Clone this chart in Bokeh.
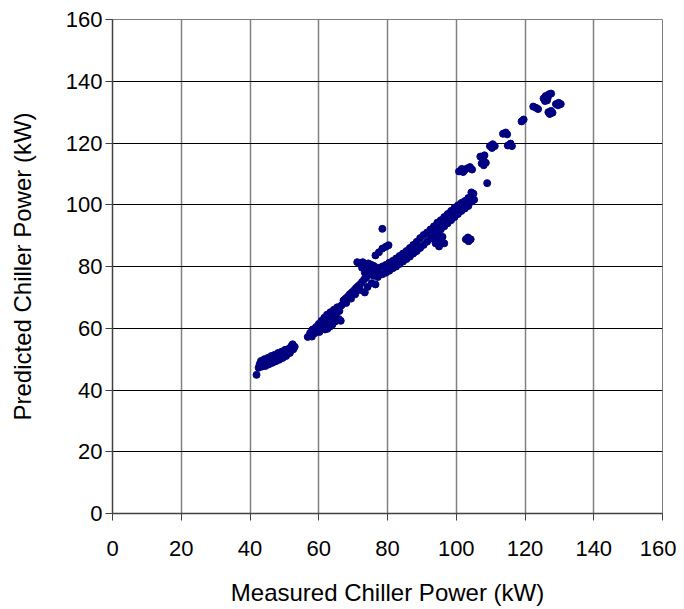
from bokeh.plotting import figure
from bokeh.models import Range1d, FixedTicker, ColumnDataSource
from bokeh.embed import file_html
from bokeh.resources import INLINE

# Measured vs predicted chiller power (kW)
measured_kw = [
    # 42-53 kW group
    41.9, 42.5, 42.8, 43.5, 43.8, 44.5, 44.8, 45.5, 45.8, 46.5, 46.8, 47.5, 47.8,
    48.5, 48.8, 49.5, 49.8, 50.5, 50.8, 51.3, 51.6, 52.0, 52.4, 52.6, 53.0,
    44.2, 46.2, 48.2, 50.2, 43.2, 45.2, 47.2, 49.2,
    # 57-67 kW group
    56.8, 57.5, 58.0, 58.2, 58.8, 59.2, 59.6, 60.0, 60.5, 60.8, 61.4, 61.6, 62.2,
    62.4, 62.5, 63.0, 63.2, 63.4, 64.0, 64.0, 64.4, 64.8, 65.0, 65.4, 65.8, 66.0,
    66.4, 66.6, 61.8, 60.2,
    # 67-76 kW band
    67.2, 67.8, 68.4, 69.0, 69.6, 70.2, 70.8, 71.4, 72.0, 72.6, 73.2, 73.8, 74.4,
    75.0, 68.0, 69.4, 70.6, 72.0, 73.4, 74.2, 75.4, 76.5,
    # 70-78 kW cluster near 80 kW predicted
    71.2, 72.0, 72.8, 73.6, 74.4, 75.2, 76.0, 72.6, 73.8, 75.0, 76.2, 77.0, 77.4,
    76.0, 77.2, 73.4,
    76.5, 77.5, 78.5, 79.5, 80.3, 78.5,
    # main band 78-105 kW
    78.5, 78.5, 79.5, 79.5, 80.5, 80.5, 81.5, 81.5, 82.5, 82.5, 83.5, 83.5, 84.5,
    84.5, 85.5, 85.5, 86.5, 86.5, 87.5, 87.5, 88.5, 88.5, 89.5, 89.5, 90.5, 90.5,
    91.5, 91.5, 92.5, 92.5, 93.5, 93.5, 94.5, 94.5, 95.5, 95.5, 96.5, 96.5, 97.5,
    97.5, 98.5, 98.5, 99.5, 99.5, 100.5, 100.5, 101.5, 101.5, 102.5, 102.5, 103.5,
    103.5, 104.5, 104.5,
    94.0, 95.0, 96.0, 97.0, 98.0, 99.0, 100.0, 101.0, 102.0, 103.0,
    # below-band lumps
    94.0, 95.0, 95.5, 96.5, 94.5, 96.0,
    102.8, 103.6, 104.2, 103.4,
    # upper scatter
    100.8, 101.6, 102.4, 103.2, 104.0, 104.6, 102.0,
    104.6, 105.2, 105.0, 104.4,
    109.0,
    107.0, 107.8, 108.2, 107.4, 108.0, 108.6,
    109.8, 110.6, 111.2, 110.4,
    115.0, 115.8, 116.2,
    113.6, 114.4, 114.8,
    119.0, 119.6,
    122.4, 123.2, 123.8,
    125.4, 126.0, 126.6, 127.0, 127.6, 126.4, 125.8,
    129.0, 129.8, 130.4, 129.6,
    126.8, 127.6, 128.0, 127.2,
]

predicted_kw = [
    # 42-53 kW group
    44.9, 47.2, 48.4, 47.6, 48.8, 47.8, 49.2, 48.3, 49.6, 48.8, 50.2, 49.3, 50.8,
    49.8, 51.2, 50.4, 51.8, 51.0, 52.4, 53.4, 52.0, 54.2, 54.8, 53.2, 54.0,
    50.0, 51.0, 52.0, 53.0, 49.4, 50.4, 51.4, 52.4,
    # 57-67 kW group
    57.2, 58.5, 57.3, 59.6, 58.4, 60.4, 59.0, 61.4, 60.2, 62.4, 61.2, 63.4, 62.2,
    64.4, 59.8, 63.2, 60.5, 65.2, 64.0, 61.2, 66.0, 62.2, 64.8, 66.8, 63.0, 65.6,
    62.4, 67.4, 59.6, 58.8,
    # 67-76 kW band
    69.0, 69.6, 70.2, 71.0, 71.6, 72.2, 73.0, 73.6, 74.2, 75.0, 75.8, 76.4, 77.2,
    78.0, 68.2, 69.6, 71.0, 72.4, 71.6, 73.4, 74.6, 74.2,
    # 70-78 kW cluster near 80 kW predicted
    81.4, 81.0, 81.4, 80.8, 81.0, 80.6, 80.2, 79.6, 79.2, 78.8, 78.6, 79.6, 78.0,
    77.0, 76.6, 78.0,
    83.6, 84.6, 85.8, 86.4, 86.9, 92.2,
    # main band 78-105 kW
    77.5, 80.0, 78.0, 80.5, 78.6, 81.2, 79.4, 81.8, 80.0, 82.6, 80.8, 83.4, 81.6,
    84.2, 82.4, 85.0, 83.2, 86.0, 84.2, 87.0, 85.0, 88.0, 86.0, 89.2, 87.0, 90.2,
    88.0, 91.0, 89.0, 92.0, 90.0, 93.0, 91.0, 94.2, 92.0, 95.0, 93.0, 96.0, 94.0,
    97.0, 95.0, 98.0, 96.0, 99.0, 97.0, 99.8, 98.0, 100.6, 98.8, 101.2, 99.6,
    102.2, 101.0, 103.0,
    92.6, 93.6, 94.6, 95.6, 96.6, 97.6, 98.4, 99.2, 100.0, 100.8,
    # below-band lumps
    87.5, 86.5, 88.5, 87.5, 89.2, 89.6,
    88.8, 88.2, 88.8, 89.4,
    # upper scatter
    110.8, 111.6, 111.2, 111.8, 112.2, 111.4, 110.6,
    102.6, 101.6, 103.6, 104.0,
    107.0,
    115.6, 115.0, 116.0, 113.4, 112.8, 113.6,
    119.0, 119.6, 119.0, 118.4,
    119.2, 119.8, 119.0,
    123.0, 123.4, 122.8,
    127.0, 127.6,
    131.8, 131.4, 131.0,
    134.4, 135.2, 134.6, 135.8, 136.0, 133.8, 133.6,
    132.6, 133.0, 132.6, 132.2,
    130.0, 130.4, 129.8, 129.4,
]

axis_ticks = [0, 20, 40, 60, 80, 100, 120, 140, 160]

source = ColumnDataSource(data=dict(x=measured_kw, y=predicted_kw))

FONT = "Liberation Sans"

p = figure(
    width=676, height=608,
    x_range=Range1d(0, 160), y_range=Range1d(0, 160),
    output_backend="svg", toolbar_location=None,
    min_border_left=112, min_border_right=14,
    min_border_top=19, min_border_bottom=94,
    background_fill_color="white", border_fill_color="white",
)

p.outline_line_color = "#808080"
p.outline_line_width = 1

p.xaxis.ticker = FixedTicker(ticks=axis_ticks)
p.yaxis.ticker = FixedTicker(ticks=axis_ticks)

p.xgrid.grid_line_color = "#808080"
p.xgrid.grid_line_width = 1.5
p.ygrid.grid_line_color = "black"
p.ygrid.grid_line_width = 1

for ax in (p.xaxis, p.yaxis):
    ax.axis_line_color = "#404040"
    ax.axis_line_width = 1.5
    ax.major_tick_line_color = "#404040"
    ax.major_tick_out = 7
    ax.major_tick_in = 0
    ax.minor_tick_line_color = None
    ax.major_label_text_font = FONT
    ax.major_label_text_font_size = "22px"
    ax.major_label_text_color = "black"
    ax.axis_label_text_font = FONT
    ax.axis_label_text_font_size = "24px"
    ax.axis_label_text_font_style = "normal"
    ax.axis_label_text_color = "black"

p.xaxis.axis_label = "Measured Chiller Power (kW)"
p.yaxis.axis_label = "Predicted Chiller Power (kW)"
p.xaxis.major_label_standoff = 20
p.xaxis.axis_label_standoff = 20
p.yaxis.major_label_standoff = 3
p.yaxis.axis_label_standoff = 27

p.scatter("x", "y", source=source, marker="circle", size=7,
          fill_color="#000080", line_color="#000080")

open("out.html", "w").write(file_html(p, INLINE))
